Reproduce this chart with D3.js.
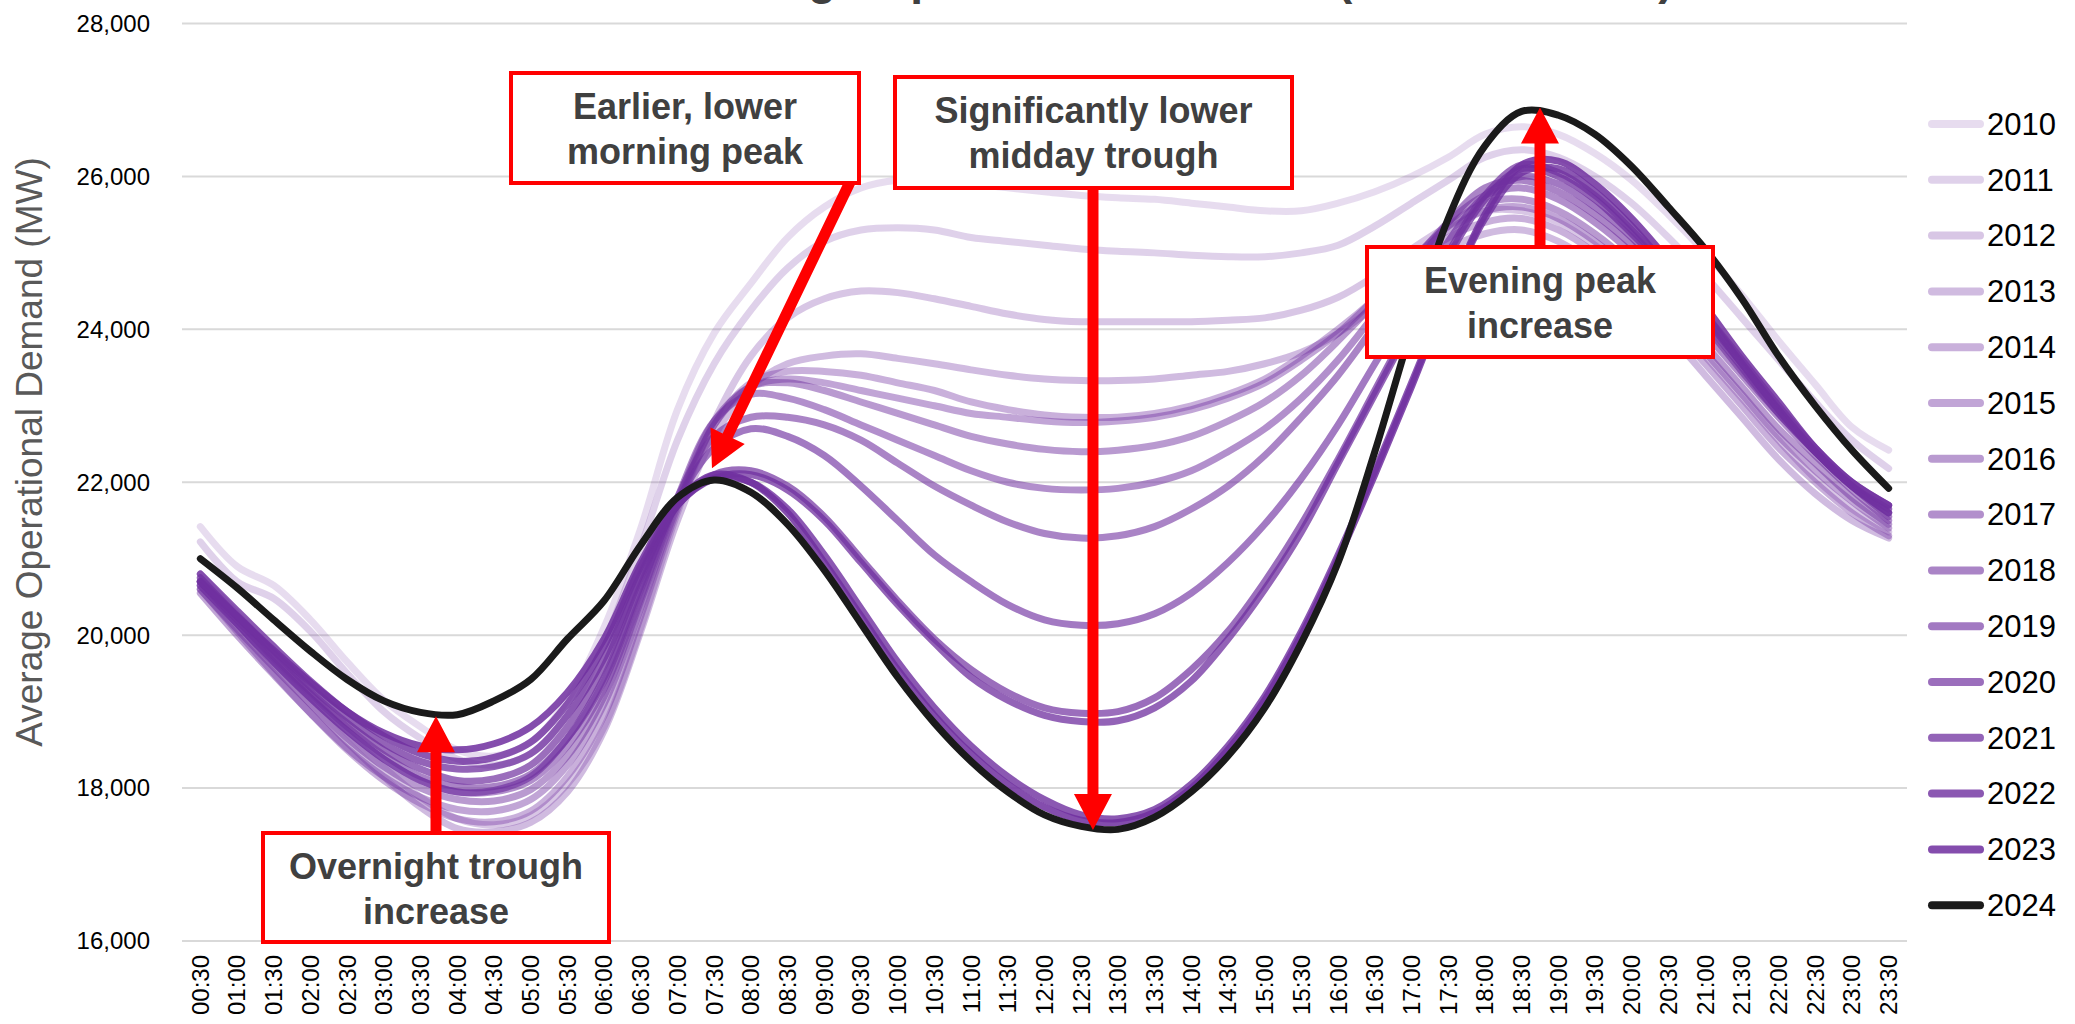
<!DOCTYPE html>
<html>
<head>
<meta charset="utf-8">
<script src="https://cdn.jsdelivr.net/npm/d3@7"></script>
<style>
html,body{margin:0;padding:0;background:#fff;}
svg{display:block;}
text{font-family:"Liberation Sans",Arial,sans-serif;}
</style>
</head>
<body>
<svg id="chart" width="2075" height="1024"></svg>
<script>
const times = ["00:30","01:00","01:30","02:00","02:30","03:00","03:30","04:00","04:30","05:00","05:30","06:00","06:30","07:00","07:30","08:00","08:30","09:00","09:30","10:00","10:30","11:00","11:30","12:00","12:30","13:00","13:30","14:00","14:30","15:00","15:30","16:00","16:30","17:00","17:30","18:00","18:30","19:00","19:30","20:00","20:30","21:00","21:30","22:00","22:30","23:00","23:30"];
const years = [2010,2011,2012,2013,2014,2015,2016,2017,2018,2019,2020,2021,2022,2023,2024];
const yTicks = [16000,18000,20000,22000,24000,26000,28000];

const d2010 = [21420,20900,20650,20200,19650,19150,18800,18500,18420,18600,19150,20100,21400,22950,23950,24600,25200,25600,25850,25950,25950,25900,25850,25800,25750,25720,25700,25650,25600,25550,25550,25650,25800,26000,26250,26550,26650,26550,26300,25950,25500,25000,24450,23850,23280,22720,22420];
const d2011 = [21220,20700,20480,20050,19500,19000,18650,18380,18300,18450,18950,19900,21150,22550,23550,24250,24800,25150,25300,25330,25300,25200,25150,25100,25050,25020,25000,24970,24950,24950,25000,25100,25350,25650,25950,26250,26350,26250,26000,25650,25200,24700,24150,23600,23050,22550,22180];
const d2012 = [20800,20280,19760,19230,18720,18270,17880,17600,17520,17640,18050,18800,20100,21600,22800,23650,24150,24400,24500,24480,24400,24300,24200,24130,24100,24100,24100,24100,24120,24150,24250,24420,24700,25050,25350,25550,25550,25400,25100,24700,24200,23650,23100,22550,22050,21650,21350];
const d2013 = [20700,20150,19620,19100,18600,18150,17750,17470,17430,17550,17950,18750,20050,21500,22600,23250,23550,23650,23680,23620,23550,23470,23400,23350,23330,23330,23350,23400,23450,23550,23700,23950,24300,24700,25050,25250,25300,25150,24850,24450,23950,23400,22850,22300,21850,21500,21270];
const d2014 = [20600,20050,19500,18980,18500,18100,17800,17600,17560,17700,18150,18950,20250,21650,22750,23300,23450,23450,23400,23300,23200,23050,22950,22880,22850,22850,22900,23000,23150,23350,23650,24000,24400,24850,25200,25400,25450,25300,25000,24600,24100,23550,23000,22450,22000,21600,21300];
const d2015 = [20550,20000,19480,18980,18520,18150,17880,17720,17700,17850,18300,19100,20350,21700,22750,23250,23350,23300,23200,23100,23000,22900,22850,22800,22780,22800,22850,22950,23100,23300,23600,23950,24400,24900,25300,25550,25600,25450,25150,24750,24250,23700,23150,22600,22150,21750,21400];
const d2016 = [20600,20080,19580,19100,18650,18280,18000,17850,17830,17980,18420,19200,20450,21750,22800,23250,23300,23200,23050,22900,22750,22600,22500,22430,22400,22420,22480,22600,22800,23050,23400,23850,24350,24900,25350,25650,25700,25550,25250,24850,24350,23800,23250,22700,22250,21800,21450];
const d2017 = [20650,20150,19650,19180,18750,18380,18100,17950,17950,18100,18550,19300,20500,21800,22800,23150,23100,22950,22750,22550,22350,22150,22000,21920,21900,21920,22000,22150,22400,22700,23100,23600,24200,24850,25400,25750,25850,25700,25400,25000,24500,23950,23400,22850,22350,21900,21500];
const d2018 = [20700,20200,19700,19230,18800,18430,18150,18020,18020,18180,18650,19400,20600,21800,22600,22850,22850,22750,22550,22250,21950,21700,21480,21330,21270,21300,21420,21650,21950,22350,22850,23400,24050,24750,25400,25850,25950,25800,25500,25100,24600,24050,23450,22900,22400,21950,21550];
const d2019 = [20650,20150,19650,19180,18750,18380,18100,17950,17970,18150,18650,19450,20650,21750,22450,22700,22600,22350,21950,21500,21050,20700,20400,20200,20130,20150,20280,20550,20950,21450,22050,22750,23550,24350,25150,25750,26000,25900,25600,25200,24650,24100,23500,22900,22400,21950,21600];
const d2020 = [20700,20200,19720,19260,18850,18500,18250,18100,18120,18300,18800,19600,20750,21700,22100,22150,21950,21550,21000,20450,19950,19550,19250,19050,18980,19000,19180,19550,20050,20700,21450,22300,23200,24100,25000,25750,26150,26050,25750,25300,24800,24200,23600,23000,22450,22000,21700];
const d2021 = [20750,20250,19780,19320,18920,18580,18350,18250,18280,18450,18950,19700,20800,21700,22050,22100,21900,21500,20950,20400,19900,19450,19150,18950,18870,18880,19050,19400,19950,20600,21350,22250,23150,24050,24950,25700,26100,26000,25700,25250,24750,24150,23550,22950,22400,21950,21650];
const d2022 = [20800,20320,19850,19400,19000,18680,18450,18350,18400,18600,19100,19850,20900,21700,22050,22000,21650,21050,20350,19650,19050,18550,18150,17850,17650,17600,17720,18050,18550,19200,20050,21050,22150,23300,24450,25450,26050,26100,25800,25350,24800,24200,23550,22950,22400,21950,21600];
const d2023 = [20700,20250,19800,19380,19000,18720,18550,18500,18580,18800,19250,19950,20950,21750,22100,22000,21600,20950,20250,19550,18950,18450,18050,17750,17580,17550,17680,18000,18500,19150,20000,21000,22100,23250,24450,25500,26150,26200,25900,25450,24900,24300,23650,23050,22450,22000,21700];
const d2024 = [21000,20620,20200,19790,19420,19140,18990,18960,19140,19420,19950,20450,21180,21800,22030,21870,21450,20850,20150,19450,18850,18350,17950,17650,17500,17460,17620,17950,18420,19050,19900,20950,22400,24000,25450,26400,26850,26800,26550,26130,25600,25050,24400,23650,23000,22420,21920];

const seriesValues = [d2010,d2011,d2012,d2013,d2014,d2015,d2016,d2017,d2018,d2019,d2020,d2021,d2022,d2023,d2024];

const annotations = [
  {lines:["Earlier, lower","morning peak"], box:[511,73,859,183], from:[852,178], tipIdx:13.94, tipVal:22183},
  {lines:["Significantly lower","midday trough"], box:[895,77,1292,188], from:[1093,185], tipIdx:24.32, tipVal:17451},
  {lines:["Overnight trough","increase"], box:[263,833,609,942], from:[436,836], tipIdx:6.42, tipVal:18941},
  {lines:["Evening peak","increase"], box:[1367,247,1713,357], from:[1540,250], tipIdx:36.5, tipVal:26902}
];

const svg = d3.select("#chart");
const L = 182, R = 1907, T = 23.5, B = 941;

const x = d3.scalePoint().domain(times).range([L, R]).padding(0.5);
const y = d3.scaleLinear().domain([16000, 28000]).range([B, T]);
const opac = d3.scaleLinear().domain([2010, 2023]).range([0.17, 0.86]);
const purple = "#7030A0";
const colorOf = yr => yr === 2024 ? "#1a1a1a" : purple;
const opOf = yr => yr === 2024 ? 1 : opac(yr);

// Title (mostly cut off above the top edge)
svg.append("text")
  .attr("x", 1015).attr("y", -6)
  .attr("text-anchor", "middle")
  .attr("font-size", 46).attr("font-weight", "bold")
  .attr("fill", "#404040")
  .text("Mainland NEM Average Operational Demand (Calendar Year)");

// gridlines
svg.append("g").selectAll("line").data(yTicks).join("line")
  .attr("x1", L).attr("x2", R)
  .attr("y1", d => y(d)).attr("y2", d => y(d))
  .attr("stroke", "#d9d9d9").attr("stroke-width", 2);

// y tick labels
svg.append("g").selectAll("text").data(yTicks).join("text")
  .attr("x", 150).attr("y", d => y(d)).attr("dy", "0.35em")
  .attr("text-anchor", "end").attr("font-size", 24).attr("fill", "#000")
  .text(d => d3.format(",")(d));

// y axis title
svg.append("text")
  .attr("transform", "translate(29,452) rotate(-90)")
  .attr("text-anchor", "middle").attr("dy", "0.35em")
  .attr("font-size", 37).attr("fill", "#595959")
  .text("Average Operational Demand (MW)");

// x tick labels
svg.append("g").selectAll("text").data(times).join("text")
  .attr("transform", d => `translate(${x(d)},955) rotate(-90)`)
  .attr("text-anchor", "end").attr("dy", "0.35em")
  .attr("font-size", 24).attr("fill", "#000")
  .text(d => d);

// lines
const line = d3.line()
  .x((d, i) => x(times[i]))
  .y(d => y(d))
  .curve(d3.curveCatmullRom.alpha(0.5));

svg.append("g").selectAll("path").data(years).join("path")
  .attr("d", (yr, k) => line(seriesValues[k]))
  .attr("fill", "none")
  .attr("stroke", yr => colorOf(yr))
  .attr("stroke-opacity", yr => opOf(yr))
  .attr("stroke-width", 7)
  .attr("stroke-linejoin", "round")
  .attr("stroke-linecap", "round");

// annotations: arrows then boxes
const gA = svg.append("g");
annotations.forEach(a => {
  const tx = x(times[0]) + a.tipIdx * x.step();
  const ty = y(a.tipVal);
  const [fx, fy] = a.from;
  const dx = tx - fx, dyv = ty - fy;
  const len = Math.hypot(dx, dyv);
  const ux = dx / len, uy = dyv / len;
  const px = -uy, py = ux;
  const headLen = 36, headW = 19, shaftW = 5.5;
  const bx = tx - ux * headLen, by = ty - uy * headLen;
  const pts = [
    [fx + px * shaftW, fy + py * shaftW],
    [bx + px * shaftW, by + py * shaftW],
    [bx + px * headW, by + py * headW],
    [tx, ty],
    [bx - px * headW, by - py * headW],
    [bx - px * shaftW, by - py * shaftW],
    [fx - px * shaftW, fy - py * shaftW]
  ];
  gA.append("path")
    .attr("d", "M" + pts.map(p => p.join(",")).join("L") + "Z")
    .attr("fill", "#ff0000");
});

annotations.forEach(a => {
  const [x0, y0, x1, y1] = a.box;
  const g = svg.append("g");
  g.append("rect")
    .attr("x", x0).attr("y", y0).attr("width", x1 - x0).attr("height", y1 - y0)
    .attr("fill", "#fff").attr("stroke", "#ff0000").attr("stroke-width", 4);
  a.lines.forEach((t, i) => {
    g.append("text")
      .attr("x", (x0 + x1) / 2).attr("y", y0 + 46 + i * 45)
      .attr("text-anchor", "middle")
      .attr("font-size", 36).attr("font-weight", "bold")
      .attr("fill", "#404040")
      .text(t);
  });
});

// legend
const leg = svg.append("g").selectAll("g").data(years).join("g")
  .attr("transform", (d, i) => `translate(0,${124 + i * 55.8})`);
leg.append("line")
  .attr("x1", 1932).attr("x2", 1980).attr("y1", 0).attr("y2", 0)
  .attr("stroke", d => colorOf(d)).attr("stroke-opacity", d => opOf(d))
  .attr("stroke-width", 8).attr("stroke-linecap", "round");
leg.append("text")
  .attr("x", 1987).attr("y", 0).attr("dy", "0.35em")
  .attr("font-size", 31).attr("fill", "#000")
  .text(d => d);
</script>
</body>
</html>
